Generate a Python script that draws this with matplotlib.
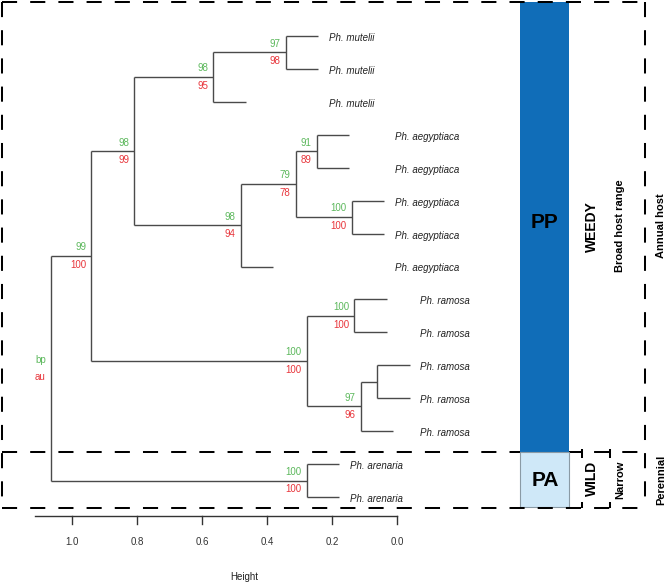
import matplotlib
matplotlib.use("Agg")
import matplotlib.pyplot as plt
from matplotlib.patches import Rectangle

plt.rcParams['font.family'] = ['Liberation Sans', 'DejaVu Sans']

# ---------------- data ----------------
leaf_labels = (["Ph. mutelii"] * 3 + ["Ph. aegyptiaca"] * 5 +
               ["Ph. ramosa"] * 5 + ["Ph. arenaria"] * 2)
# merges (scipy convention: 0..14 leaves, 15+k = k-th merge)
merge_left = [0, 15, 3, 5, 17, 19, 16, 8, 10, 23, 22, 21, 13, 26]
merge_right = [1, 2, 4, 6, 18, 7, 20, 9, 11, 12, 24, 25, 14, 27]
merge_height = [0.342, 0.566, 0.247, 0.139, 0.312, 0.481, 0.809,
                0.131, 0.061, 0.112, 0.278, 0.940, 0.278, 1.065]
bp_values = [97, 98, 91, 100, 79, 98, 98, 100, None, 97, 100, 99, 100, "bp"]
au_values = [98, 95, 89, 100, 78, 94, 99, 100, None, 96, 100, 100, 100, "au"]
hang = 0.1
axis_ticks = [1.0, 0.8, 0.6, 0.4, 0.2, 0.0]
axis_title = "Height"
group_texts = ["PP", "PA"]
weedy_texts = ["WEEDY", "Broad host range", "Annual host"]
wild_texts = ["WILD", "Narrow", "Perennial"]

# ---------------- figure ----------------
W, H = 666, 583
fig = plt.figure(figsize=(W / 100, H / 100), dpi=100)
ax = fig.add_axes([0, 0, 1, 1])
# pixel mapping: x_px = 397 - 325*h ; y_px = 36 + 32.93*i
ax.set_xlim((397 - 0) / 325, (397 - W) / 325)
ax.set_ylim((H - 36) / 32.93, (0 - 36) / 32.93)
ax.axis('off')

green = '#5cb85c'
red = '#e8353b'
tree_col = '#4a4a4a'

n_leaves = len(leaf_labels)
ypos = {i: float(i) for i in range(n_leaves)}
xpos = {}
tips = {}
for k, (l, r) in enumerate(zip(merge_left, merge_right)):
    node = n_leaves + k
    h = merge_height[k]
    ypos[node] = (ypos[l] + ypos[r]) / 2
    xpos[node] = h
    for c in (l, r):
        if c < n_leaves:
            cx = h - hang
            tips[c] = cx
        else:
            cx = xpos[c]
        ax.plot([h, cx], [ypos[c], ypos[c]], color=tree_col, lw=1.0,
                solid_capstyle='butt')
    ax.plot([h, h], [ypos[l], ypos[r]], color=tree_col, lw=1.0,
            solid_capstyle='butt')
    if bp_values[k] is not None:
        ax.annotate(str(bp_values[k]), xy=(h, ypos[node]), xytext=(-3.6, 6.3),
                    textcoords='offset points', ha='right', va='center',
                    fontsize=7, color=green)
        ax.annotate(str(au_values[k]), xy=(h, ypos[node]), xytext=(-3.6, -6.3),
                    textcoords='offset points', ha='right', va='center',
                    fontsize=7, color=red)

# leaf labels, aligned per species group
groups = {}
for i, lab in enumerate(leaf_labels):
    groups.setdefault(lab, []).append(i)
for lab, idx in groups.items():
    lx = min(tips[i] for i in idx) - 0.033
    for i in idx:
        ax.text(lx, ypos[i] + 0.06, lab, fontsize=7, style='italic',
                ha='left', va='center', color='#222222')

# height axis
axis_y = (516 - 36) / 32.93
ax.plot([1.114, axis_ticks[-1]], [axis_y, axis_y], color='#333333', lw=1.0)
for t in axis_ticks:
    ax.plot([t, t], [axis_y, axis_y + 8 / 32.93], color='#333333', lw=1.0)
    ax.text(t, (542 - 36) / 32.93, f"{t:.1f}", fontsize=7, ha='center',
            va='center', color='#333333')
ax.text(0.47, (577 - 36) / 32.93, axis_title, fontsize=7, ha='center',
        va='center', color='#222222')

# ---------------- right-side annotation (pixel overlay) ----------------
ov = fig.add_axes([0, 0, 1, 1], facecolor='none')
ov.set_xlim(0, W)
ov.set_ylim(H, 0)
ov.axis('off')

dash = dict(color='black', lw=1.45, ls=(0, (7.5, 6.5)))
solid = dict(color='black', lw=1.45, solid_capstyle='butt')
# middle separator below the rectangles
ov.plot([2, 645], [452, 452], zorder=1, **dash)
ov.add_patch(Rectangle((520, 2), 49, 450, facecolor='#106db8',
                       edgecolor='none', zorder=2))
ov.add_patch(Rectangle((520, 452), 49, 55, facecolor='#cfe8f8',
                       edgecolor='#8a9aa5', lw=0.8, zorder=2))
ov.plot([2, 645], [2, 2], zorder=3, **dash)
ov.plot([2, 645], [508, 508], zorder=3, **dash)
ov.plot([2, 2], [2, 508], zorder=3, **dash)
ov.plot([645, 645], [2, 508], zorder=3, **dash)
for sx in (582, 610):
    ov.plot([sx, sx], [449, 458], zorder=3, **solid)
    ov.plot([sx, sx], [502, 508], zorder=3, **solid)

ov.text(545, 222, group_texts[0], fontsize=15, fontweight='bold', ha='center',
        va='center', zorder=4)
ov.text(545, 480, group_texts[1], fontsize=15, fontweight='bold', ha='center',
        va='center', zorder=4)
ov.text(592, 227, weedy_texts[0], fontsize=10, fontweight='bold', rotation=90,
        ha='center', va='center')
ov.text(620, 226, weedy_texts[1], fontsize=8, fontweight='bold', rotation=90,
        ha='center', va='center')
ov.text(661, 226, weedy_texts[2], fontsize=8, fontweight='bold', rotation=90,
        ha='center', va='center')
ov.text(592, 478, wild_texts[0], fontsize=10, fontweight='bold', rotation=90,
        ha='center', va='center')
ov.text(620, 480, wild_texts[1], fontsize=8, fontweight='bold', rotation=90,
        ha='center', va='center')
ov.text(661, 480, wild_texts[2], fontsize=8, fontweight='bold', rotation=90,
        ha='center', va='center')

fig.savefig('out.png', dpi=100, facecolor='white')
